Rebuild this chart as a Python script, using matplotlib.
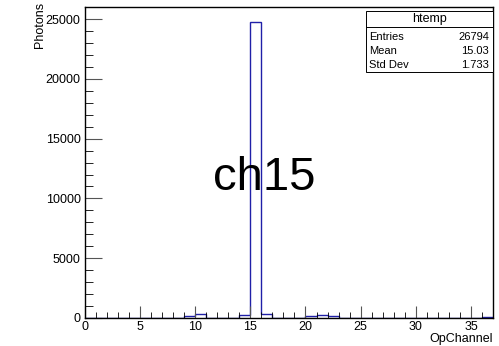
import matplotlib
matplotlib.use('Agg')
import matplotlib.pyplot as plt
from matplotlib.ticker import MultipleLocator
import numpy as np

plt.rcParams['font.family'] = ['Liberation Sans', 'DejaVu Sans']

# histogram htemp: OpChannel, unit bins from 0 to 37
edges = np.arange(0, 38)
counts = np.zeros(37)
counts[9] = 150
counts[10] = 300
counts[14] = 280
counts[15] = 24780
counts[16] = 300
counts[20] = 130
counts[21] = 280
counts[22] = 160
counts[36] = 60

stats_title = 'htemp'
stats_names = ['Entries', 'Mean', 'Std Dev']
stats_vals = ['26794', '15.03', '1.733']

fig = plt.figure(figsize=(4.99, 3.46), dpi=100)
ax = fig.add_axes([0.170, 0.081, 0.818, 0.899])

ax.stairs(counts, edges, color='#2020a8', lw=1)
ax.set_xlim(0, 37)
ax.set_ylim(0, counts.max() * 1.05)

ax.xaxis.set_major_locator(MultipleLocator(5))
ax.xaxis.set_minor_locator(MultipleLocator(1))
ax.yaxis.set_major_locator(MultipleLocator(5000))
ax.yaxis.set_minor_locator(MultipleLocator(1000))
ax.tick_params(which='major', direction='in', labelsize=9, color='#555555')
ax.tick_params(axis='x', which='major', length=9, pad=2)
ax.tick_params(axis='y', which='major', length=12, pad=3)
ax.tick_params(axis='x', which='minor', direction='in', length=4.5)
ax.tick_params(axis='y', which='minor', direction='in', length=6)
for s in ax.spines.values():
    s.set_linewidth(1)

ax.set_xlabel('OpChannel', fontsize=9, loc='right', labelpad=0)
ax.set_ylabel('Photons', fontsize=9, loc='top')
ax.yaxis.set_label_coords(-0.095, 1.015)

ax.text(0.44, 0.45, 'ch15', transform=ax.transAxes, fontsize=34,
        ha='center', va='center')

# stats box
x0, x1 = 366 / 499, 493 / 499
y0, y1 = 1 - 72 / 346, 1 - 11 / 346
fig.patches.append(plt.Rectangle((x0, y0), x1 - x0, y1 - y0, transform=fig.transFigure,
                                 fc='white', ec='black', lw=0.7))
ysep = 1 - 27 / 346
fig.add_artist(plt.Line2D([x0, x1], [ysep, ysep], color='black', lw=0.7,
                          transform=fig.transFigure))
fig.text((x0 + x1) / 2, 1 - 19 / 346, stats_title, ha='center', va='center', fontsize=9)
for i, (n, v) in enumerate(zip(stats_names, stats_vals)):
    yy = 1 - (36.5 + 14 * i) / 346
    fig.text(x0 + 3 / 499, yy, n, ha='left', va='center', fontsize=8)
    fig.text(x1 - 4 / 499, yy, v, ha='right', va='center', fontsize=8)

fig.savefig('out.png', dpi=100)
